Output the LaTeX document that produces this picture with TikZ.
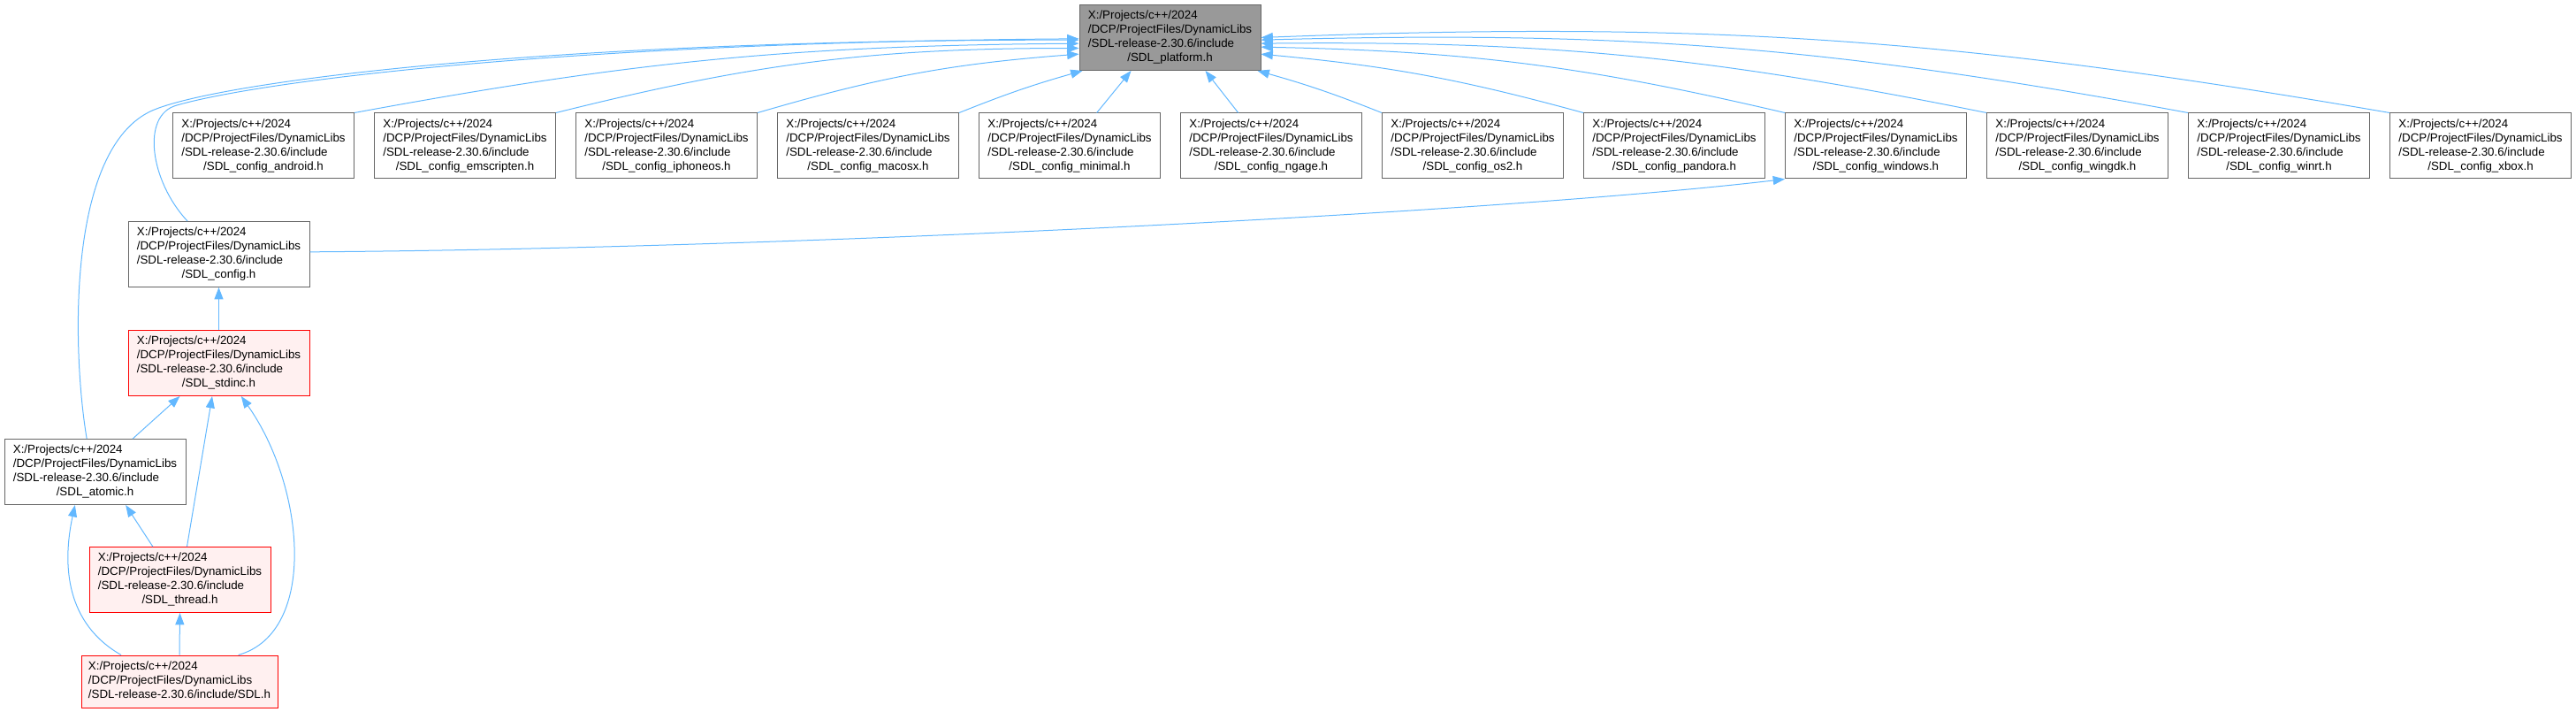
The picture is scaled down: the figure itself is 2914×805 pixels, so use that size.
\documentclass[tikz,border=0pt]{standalone}
\usepackage{fontspec}
\setmainfont{Liberation Sans}
\usetikzlibrary{arrows.meta}
\definecolor{IncludeEdge}{HTML}{63B8FF}
\definecolor{IncludeLine}{HTML}{666666}
\definecolor{IncludeFocus}{HTML}{999999}
\definecolor{IncludeRed}{HTML}{FF0000}
\definecolor{IncludeRedFill}{HTML}{FFF0F0}
\newcommand{\sdlpath}[1]{\begin{tabular}{@{}l@{}}X:/Projects/c++/2024\\/DCP/ProjectFiles/DynamicLibs\\/SDL-release-2.30.6/include\\\multicolumn{1}{@{}c@{}}{/#1}\end{tabular}}

\begin{document}
\begin{tikzpicture}[x=0.75pt,y=0.75pt,
    filebox/.style={draw=IncludeLine,fill=white,line width=0.75pt,minimum width=153.75pt,
      minimum height=55.5pt,inner sep=0pt,font=\fontsize{10}{12}\selectfont},
    focusbox/.style={filebox,fill=IncludeFocus},
    redbox/.style={filebox,draw=IncludeRed,fill=IncludeRedFill},
    incl/.style={IncludeEdge,line width=0.75pt,-{Triangle[length=10pt,width=7.5pt]}}]
  \useasboundingbox (0,0) rectangle (2914,-805);
  \node[focusbox] (platform) at (1323.5,-42.5) {\sdlpath{SDL\_platform.h}};
  \node[filebox] (android) at (298,-165) {\sdlpath{SDL\_config\_android.h}};
  \node[filebox] (emscripten) at (526,-165) {\sdlpath{SDL\_config\_emscripten.h}};
  \node[filebox] (iphoneos) at (754,-165) {\sdlpath{SDL\_config\_iphoneos.h}};
  \node[filebox] (macosx) at (982,-165) {\sdlpath{SDL\_config\_macosx.h}};
  \node[filebox] (minimal) at (1210,-165) {\sdlpath{SDL\_config\_minimal.h}};
  \node[filebox] (ngage) at (1438,-165) {\sdlpath{SDL\_config\_ngage.h}};
  \node[filebox] (os2) at (1666,-165) {\sdlpath{SDL\_config\_os2.h}};
  \node[filebox] (pandora) at (1894,-165) {\sdlpath{SDL\_config\_pandora.h}};
  \node[filebox] (windows) at (2122,-165) {\sdlpath{SDL\_config\_windows.h}};
  \node[filebox] (wingdk) at (2350,-165) {\sdlpath{SDL\_config\_wingdk.h}};
  \node[filebox] (winrt) at (2578,-165) {\sdlpath{SDL\_config\_winrt.h}};
  \node[filebox] (xbox) at (2806,-165) {\sdlpath{SDL\_config\_xbox.h}};
  \node[filebox] (config) at (247.5,-287.5) {\sdlpath{SDL\_config.h}};
  \node[redbox] (stdinc) at (247.5,-410.5) {\sdlpath{SDL\_stdinc.h}};
  \node[filebox] (atomic) at (107.5,-533.5) {\sdlpath{SDL\_atomic.h}};
  \node[redbox] (thread) at (203.5,-655.5) {\sdlpath{SDL\_thread.h}};
  \node[redbox,minimum width=166.5pt,minimum height=44.25pt] (sdl) at (203,-770.5)
    {\begin{tabular}{@{}l@{}}X:/Projects/c++/2024\\/DCP/ProjectFiles/DynamicLibs\\/SDL-release-2.30.6/include/SDL.h\end{tabular}};
  \draw[incl] (android.north east) to[bend left=5] ([yshift=-5pt]platform.west);
  \draw[incl] (emscripten.north east) to[bend left=7] ([yshift=-9pt]platform.west);
  \draw[incl] (iphoneos.north east) to[bend left=6] ([yshift=-14pt]platform.west);
  \draw[incl] (macosx.north east) to[bend left=3] ([xshift=3pt]platform.south west);
  \draw[incl] ([xshift=23pt]minimal.north) -- ([xshift=-33pt]platform.south);
  \draw[incl] ([xshift=-28pt]ngage.north) -- ([xshift=30pt]platform.south);
  \draw[incl] (os2.north west) to[bend right=3] ([xshift=-3pt]platform.south east);
  \draw[incl] (pandora.north west) to[bend right=5] ([yshift=-14pt]platform.east);
  \draw[incl] (windows.north west) to[bend right=6] ([yshift=-8pt]platform.east);
  \draw[incl] (wingdk.north west) to[bend right=6] ([yshift=-5pt]platform.east);
  \draw[incl] (winrt.north west) to[bend right=6] ([yshift=-2pt]platform.east);
  \draw[incl] (xbox.north west) to[bend right=6] (platform.east);
  \draw[incl] ([xshift=-26.6pt]config.north) .. controls (170,-205) and (159,-130) .. (200,-119)
    .. controls (302,-90) and (650,-48) .. ([yshift=-1pt]platform.west);
  \draw[incl] ([xshift=-7pt]atomic.north) .. controls (82,-400) and (75,-175) .. (168,-127)
    .. controls (230,-95) and (600,-45) .. ([yshift=-2pt]platform.west);
  \draw[incl] ([yshift=2pt]config.east) .. controls (900,-281) and (1700,-240) .. (windows.south west);
  \draw[incl] (stdinc.north) -- (config.south);
  \draw[incl] ([xshift=32pt]atomic.north) -- ([xshift=-33pt]stdinc.south);
  \draw[incl] ([xshift=6pt]thread.north) -- ([xshift=-5.6pt]stdinc.south);
  \draw[incl] ([xshift=50pt]sdl.north) .. controls (360,-715) and (345,-550) .. ([xshift=19pt]stdinc.south);
  \draw[incl] ([xshift=-23pt]thread.north) -- ([xshift=26pt]atomic.south);
  \draw[incl] ([xshift=-49.5pt]sdl.north) .. controls (75,-705) and (70,-640) .. ([xshift=-17pt]atomic.south);
  \draw[incl] (sdl.north) -- (thread.south);
\end{tikzpicture}
\end{document}
